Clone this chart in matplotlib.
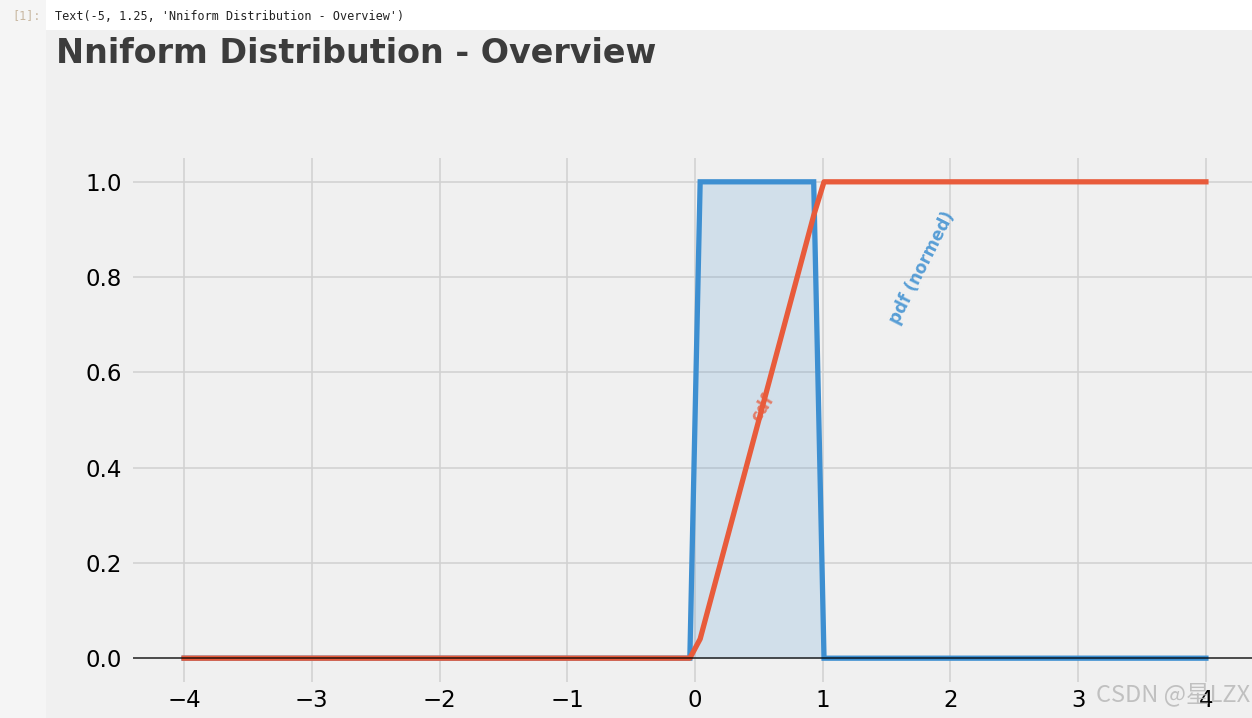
import matplotlib
matplotlib.use("Agg")
import matplotlib.pyplot as plt
from matplotlib.patches import Rectangle

# ---- data ----
x_vals = [-4.0, -0.0404, 0.0404, 0.9293, 1.0101, 4.0]
pdf_vals = [0.0, 0.0, 1.0, 1.0, 0.0, 0.0]
cdf_vals = [0.0, 0.0, 0.0404, 0.9293, 1.0, 1.0]
x_ticks = [-4, -3, -2, -1, 0, 1, 2, 3, 4]
y_ticks = [0.0, 0.2, 0.4, 0.6, 0.8, 1.0]
title_text = "Nniform Distribution - Overview"
out_text = "Text(-5, 1.25, 'Nniform Distribution - Overview')"

W, H = 1252, 718
fig = plt.figure(figsize=(W / 100, H / 100), dpi=100, facecolor="#f0f0f0")

# notebook chrome
fig.patches.append(Rectangle((0, 0), 46 / W, 1, transform=fig.transFigure,
                             facecolor="#f5f5f5", edgecolor="none", zorder=-5))
fig.patches.append(Rectangle((46 / W, (H - 30) / H), 1, 30 / H, transform=fig.transFigure,
                             facecolor="white", edgecolor="none", zorder=-5))
fig.text(12 / W, (H - 16) / H, "[1]:", family="DejaVu Sans Mono", fontsize=8.5,
         color="#c9b8a2", va="center", ha="left")
fig.text(55 / W, (H - 16) / H, out_text, family="DejaVu Sans Mono", fontsize=8.5,
         color="#222222", va="center", ha="left")

ax = fig.add_axes([133 / W, 36 / H, 1124 / W, 524 / H])
ax.set_facecolor("#f0f0f0")
for s in ax.spines.values():
    s.set_visible(False)

blue = "#3d8fd1"
red = "#e85b3b"

ax.fill_between(x_vals, pdf_vals, 0, color="#3d8fd1", alpha=0.17, linewidth=0, zorder=2)
ax.plot(x_vals, pdf_vals, color=blue, linewidth=3.8, zorder=3, solid_joinstyle="miter")
ax.plot(x_vals, cdf_vals, color=red, linewidth=3.8, zorder=4)
ax.axhline(0, color="black", linewidth=1.4, alpha=0.65, zorder=5)

ax.set_xlim(-4.4, 4.4)
ax.set_ylim(-0.05, 1.05)
ax.set_xticks(x_ticks)
ax.set_yticks(y_ticks)
ax.set_xticklabels([f"\u2212{abs(t)}" if t < 0 else str(t) for t in x_ticks])
ax.set_yticklabels([f"{t:.1f}" for t in y_ticks])
ax.tick_params(axis="both", length=0, labelsize=16.5, colors="black")
ax.tick_params(axis="x", pad=5)
ax.tick_params(axis="y", pad=8)
ax.grid(True, color="#d2d2d2", linewidth=1.2, zorder=0)
ax.set_axisbelow(True)

ax.text(-5, 1.25, title_text, fontsize=24, fontweight="bold", color="#3c3c3c",
        ha="left", va="baseline")
ax.text(1.78, 0.82, "pdf (normed)", rotation=63, fontsize=12, fontweight="bold",
        color=blue, alpha=0.85, ha="center", va="center", rotation_mode="anchor")
ax.text(0.53, 0.525, "cdf", rotation=58, fontsize=12, fontweight="bold",
        color=red, alpha=0.75, ha="center", va="center", rotation_mode="anchor", zorder=6)

fig.text(1250 / W, 24 / H, "CSDN @星LZX", family=["Noto Sans CJK SC", "DejaVu Sans"],
         fontsize=17, color="#b8b8b8", alpha=0.85, ha="right", va="center")

fig.savefig("out.png", dpi=100, facecolor=fig.get_facecolor())
